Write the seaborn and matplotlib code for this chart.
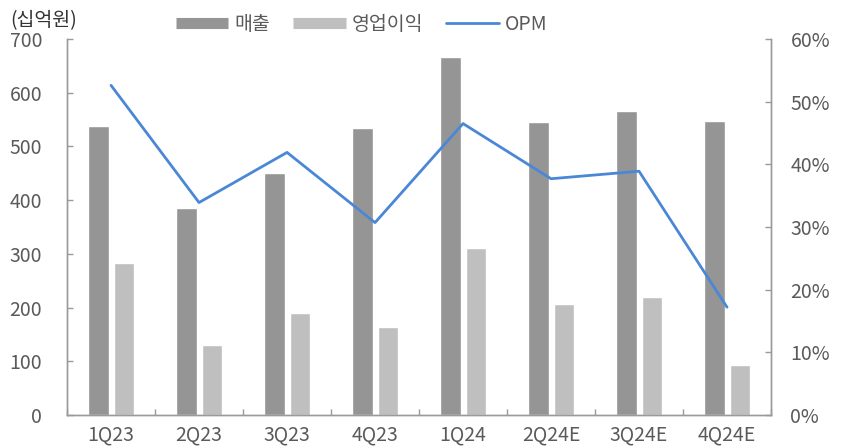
import matplotlib
matplotlib.use("Agg")
import matplotlib.pyplot as plt
import numpy as np
import pandas as pd
import seaborn as sns
from matplotlib.lines import Line2D
from matplotlib.ticker import FuncFormatter

quarters = ["1Q23", "2Q23", "3Q23", "4Q23", "1Q24", "2Q24E", "3Q24E", "4Q24E"]
sales = [538, 386, 451, 534, 666, 546, 565, 547]
op_profit = [283, 131, 189, 164, 310, 206, 220, 94]
opm = [52.6, 33.9, 41.9, 30.7, 46.5, 37.7, 38.9, 17.2]

SALES_COLOR = "#959595"
OP_COLOR = "#bfbfbf"
LINE_COLOR = "#4a87d6"
TEXT_COLOR = "#5a5a5a"
SPINE_COLOR = "#9a9a9a"

sns.set_theme(style="white")
plt.rcParams["font.family"] = ["Noto Sans CJK KR", "DejaVu Sans"]
plt.rcParams["axes.unicode_minus"] = False

frame = pd.DataFrame(
    {
        "quarter": quarters * 2,
        "value": sales + op_profit,
        "kind": ["매출"] * len(quarters) + ["영업이익"] * len(quarters),
    }
)

fig = plt.figure(figsize=(8.41, 4.46), dpi=100)
ax = fig.add_axes([0.0797, 0.0695, 0.8371, 0.8431])
sns.barplot(
    data=frame, x="quarter", y="value", hue="kind", order=quarters,
    palette=[SALES_COLOR, OP_COLOR], width=0.57, gap=0.2,
    saturation=1, legend=False, ax=ax,
)
ax.set_ylim(0, 700)
ax.set_xlim(-0.5, len(quarters) - 0.5)
ax.set_yticks(np.arange(0, 701, 100))
ax.set_xlabel("")
ax.set_ylabel("")

ax2 = ax.twinx()
sns.lineplot(x=np.arange(len(quarters)), y=opm, color=LINE_COLOR, linewidth=2, ax=ax2)
ax2.set_ylim(0, 60)
ax2.set_yticks(np.arange(0, 61, 10))
ax2.yaxis.set_major_formatter(FuncFormatter(lambda v, _: f"{v:.0f}%"))

for a in (ax, ax2):
    a.spines["top"].set_visible(False)
    for side in ("left", "bottom", "right"):
        a.spines[side].set_color(SPINE_COLOR)
        a.spines[side].set_linewidth(1)
    a.tick_params(axis="y", colors=SPINE_COLOR, labelcolor=TEXT_COLOR, labelsize=14,
                  direction="in", length=4, width=1)

ax.tick_params(axis="y", left=True, pad=18)
ax2.tick_params(axis="y", right=True, pad=14)
ax.set_xticks(np.arange(len(quarters)))
ax.set_xticklabels(quarters)
ax.set_xticks(np.arange(len(quarters) + 1) - 0.5, minor=True)
ax.tick_params(axis="x", which="major", length=0, labelsize=14, labelcolor=TEXT_COLOR, pad=7)
ax.tick_params(axis="x", which="minor", bottom=True, direction="in", length=4,
               width=1, color=SPINE_COLOR)

fig.text(0.012, 0.953, "(십억원)", fontsize=14, color="#333333", ha="left", va="center")

handles = [
    Line2D([], [], color=SALES_COLOR, linewidth=8, solid_capstyle="butt"),
    Line2D([], [], color=OP_COLOR, linewidth=8, solid_capstyle="butt"),
    Line2D([], [], color=LINE_COLOR, linewidth=2),
]
fig.legend(
    handles, ["매출", "영업이익", "OPM"], loc="center left",
    bbox_to_anchor=(0.188, 0.945), ncol=3, frameon=False, fontsize=14,
    handlelength=2.7, handletextpad=0.3, columnspacing=1.2, labelcolor=TEXT_COLOR,
)

fig.savefig("out.png", dpi=100)
